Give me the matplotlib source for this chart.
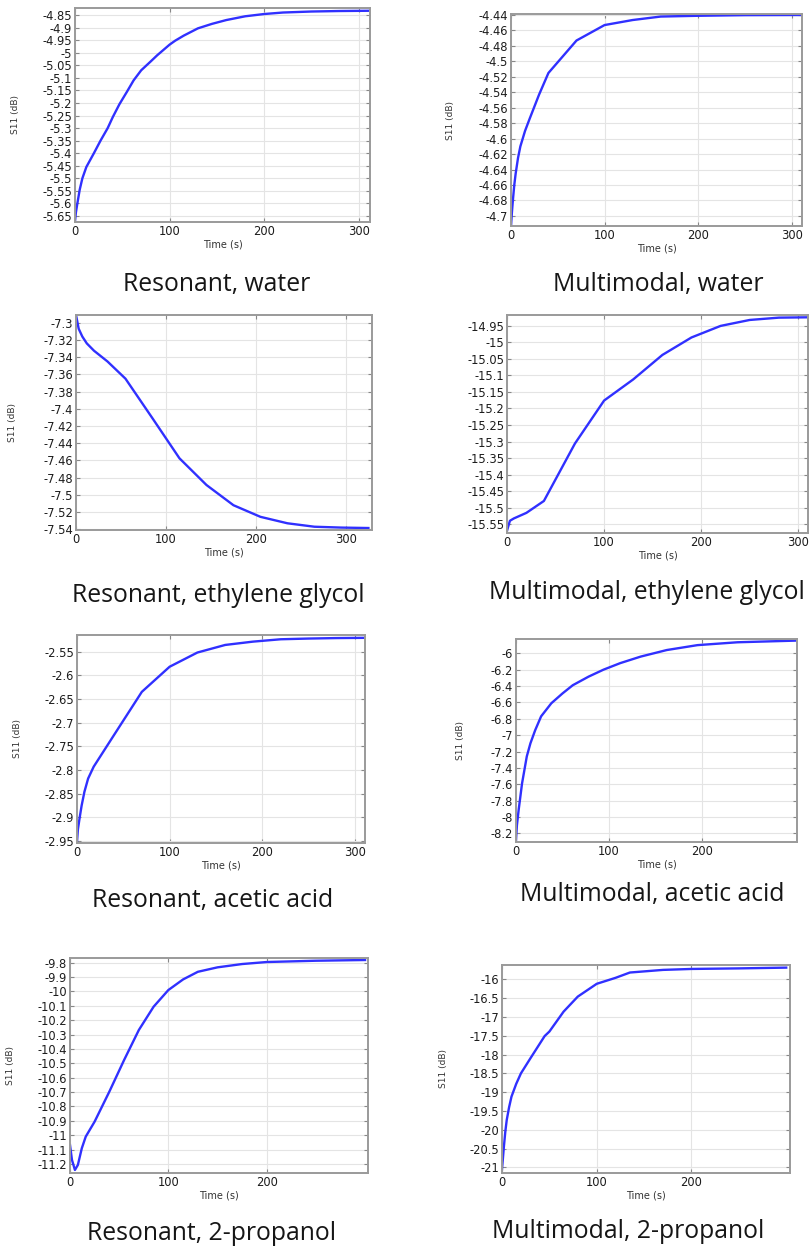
import matplotlib
matplotlib.use("Agg")
import matplotlib.pyplot as plt
from matplotlib.ticker import FuncFormatter
import numpy as np

plt.rcParams['axes.unicode_minus'] = False
plt.rcParams['font.family'] = ['DejaVu Sans']

W, H = 809, 1250

# ---- data (time in s, S11 in dB) ----
T_RES_WATER = [0, 1, 2.5, 5, 7.8, 12, 20, 27, 34.6, 40, 47, 55, 62, 70, 80, 87, 100,
               106, 115, 130, 145, 160, 180, 200, 220, 250, 280, 310]
S_RES_WATER = [-5.67, -5.635, -5.60, -5.545, -5.50, -5.455, -5.40, -5.35, -5.30, -5.256,
               -5.205, -5.155, -5.11, -5.07, -5.035, -5.01, -4.968, -4.952, -4.932, -4.903,
               -4.885, -4.87, -4.855, -4.846, -4.84, -4.836, -4.834, -4.833]

T_MM_WATER = [0, 1, 2, 3.5, 5, 7.5, 10, 15, 20, 30, 40, 70, 100, 130, 160, 200, 250, 310]
S_MM_WATER = [-4.713, -4.695, -4.68, -4.66, -4.645, -4.625, -4.610, -4.590, -4.574,
              -4.543, -4.515, -4.473, -4.453, -4.4465, -4.442, -4.441, -4.4402, -4.440]

T_RES_EG = [0, 3, 7, 12, 20, 35, 55, 85, 115, 145, 175, 205, 235, 265, 295, 325]
S_RES_EG = [-7.291, -7.307, -7.316, -7.324, -7.3325, -7.345, -7.365, -7.411, -7.4575,
            -7.4885, -7.512, -7.5255, -7.533, -7.537, -7.538, -7.5385]

T_MM_EG = [0, 3, 7, 20, 38, 70, 100, 130, 160, 190, 220, 250, 280, 310]
S_MM_EG = [-15.570, -15.54, -15.533, -15.516, -15.48, -15.306, -15.176, -15.112,
           -15.038, -14.985, -14.950, -14.932, -14.925, -14.924]

T_RES_AA = [0, 1, 3, 5, 8, 12, 18, 40, 70, 100, 130, 160, 190, 220, 250, 280, 310]
S_RES_AA = [-2.951, -2.925, -2.899, -2.875, -2.846, -2.818, -2.793, -2.726, -2.635,
            -2.582, -2.552, -2.536, -2.529, -2.524, -2.5225, -2.5215, -2.521]

T_MM_AA = [0, 1, 2.9, 6.5, 11.6, 15.5, 20.6, 27, 38, 50, 61, 78, 94, 112, 134, 162,
           195, 238, 300]
S_MM_AA = [-8.28, -8.10, -7.91, -7.59, -7.26, -7.10, -6.94, -6.77, -6.61, -6.49,
           -6.39, -6.285, -6.20, -6.12, -6.04, -5.96, -5.90, -5.865, -5.845]

T_RES_PROP = [0, 2, 5, 8, 12, 16, 25, 40, 55, 70, 85, 100, 115, 130, 150, 175, 200,
              250, 300]
S_RES_PROP = [-11.068, -11.172, -11.242, -11.207, -11.091, -11.01, -10.906, -10.697,
              -10.477, -10.268, -10.106, -9.99, -9.916, -9.863, -9.832, -9.809, -9.795,
              -9.786, -9.781]

T_MM_PROP = [0, 1, 2, 3.5, 5, 7.5, 10, 15, 20, 30, 45, 50, 65, 80, 100, 120, 135, 170,
             200, 250, 300]
S_MM_PROP = [-21.05, -20.75, -20.45, -20.05, -19.74, -19.40, -19.12, -18.78, -18.5,
             -18.1, -17.51, -17.39, -16.86, -16.46, -16.12, -15.96, -15.82, -15.75,
             -15.725, -15.71, -15.69]

CAPTIONS = ['Resonant, water', 'Multimodal, water',
            'Resonant, ethylene glycol', 'Multimodal, ethylene glycol',
            'Resonant, acetic acid', 'Multimodal, acetic acid',
            'Resonant, 2-propanol', 'Multimodal, 2-propanol']

SERIES = [(T_RES_WATER, S_RES_WATER), (T_MM_WATER, S_MM_WATER),
          (T_RES_EG, S_RES_EG), (T_MM_EG, S_MM_EG),
          (T_RES_AA, S_RES_AA), (T_MM_AA, S_MM_AA),
          (T_RES_PROP, S_RES_PROP), (T_MM_PROP, S_MM_PROP)]

# panel layout in pixels: left, right, top, bottom
BOXES = [(75, 370, 8, 222), (511, 802, 14, 226),
         (76, 372, 315, 530), (507, 808, 315, 533),
         (77, 365, 635, 843), (516, 797, 639, 842),
         (70, 368, 958, 1173), (502, 790, 965, 1173)]
XLIMS = [(0, 312), (0, 311), (0, 329), (0, 310), (0, 311), (0, 302), (0, 303), (0, 304)]
XTICKS = [[0, 100, 200, 300]] * 5 + [[0, 100, 200]] * 3
YLIMS = [(-5.674, -4.822), (-4.713, -4.4387), (-7.5408, -7.291), (-15.577, -14.917),
         (-2.954, -2.515), (-8.306, -5.825), (-11.263, -9.767), (-21.15, -15.62)]
YTICKS = [np.arange(-5.65, -4.84, 0.05), np.arange(-4.70, -4.439, 0.02),
          np.arange(-7.54, -7.299, 0.02), np.arange(-15.55, -14.949, 0.05),
          np.arange(-2.95, -2.549, 0.05), np.arange(-8.2, -5.99, 0.2),
          np.arange(-11.2, -9.79, 0.1), np.arange(-21.0, -15.99, 0.5)]
YLABEL_X = [20, 455, 17, None, 22, 465, 15, 448]
CAPTION_XY = [(217, 285), (658, 285), (218, 595), (647, 593),
              (213, 900), (652, 895), (212, 1233), (628, 1232)]

fig = plt.figure(figsize=(W / 100, H / 100), dpi=100)

fmt = FuncFormatter(lambda v, p: '{:g}'.format(round(v, 4)))

for i, (t, s) in enumerate(SERIES):
    l, r, tp, b = BOXES[i]
    ax = fig.add_axes([l / W, 1 - b / H, (r - l) / W, (b - tp) / H])
    ax.plot(t, s, color='#3030ff', linewidth=1.7)
    ax.set_xlim(*XLIMS[i])
    ax.set_ylim(*YLIMS[i])
    ax.set_xticks(XTICKS[i])
    ax.set_yticks(YTICKS[i])
    ax.yaxis.set_major_formatter(fmt)
    ax.grid(True, color='#e4e4e4', linewidth=0.8)
    ax.set_axisbelow(True)
    for sp in ax.spines.values():
        sp.set_color('#9a9a9a')
        sp.set_linewidth(1.4)
    ax.tick_params(direction='in', length=3, width=0.8, color='#888888',
                   top=True, right=True, labelsize=8.3, labelcolor='#1c1c1c', pad=2)
    ax.set_xlabel('Time (s)', fontsize=7, color='#333333', labelpad=1)
    if YLABEL_X[i] is not None:
        ax.set_ylabel('S11 (dB)', fontsize=6.5, color='#333333')
        ax.yaxis.set_label_coords((YLABEL_X[i] - l) / (r - l), 0.5)
    cx, cy = CAPTION_XY[i]
    fig.text(cx / W, 1 - cy / H, CAPTIONS[i], ha='center', va='center',
             fontsize=17.8, color='#161616', family=['Open Sans', 'DejaVu Sans'])

fig.savefig('out.png', dpi=100)
